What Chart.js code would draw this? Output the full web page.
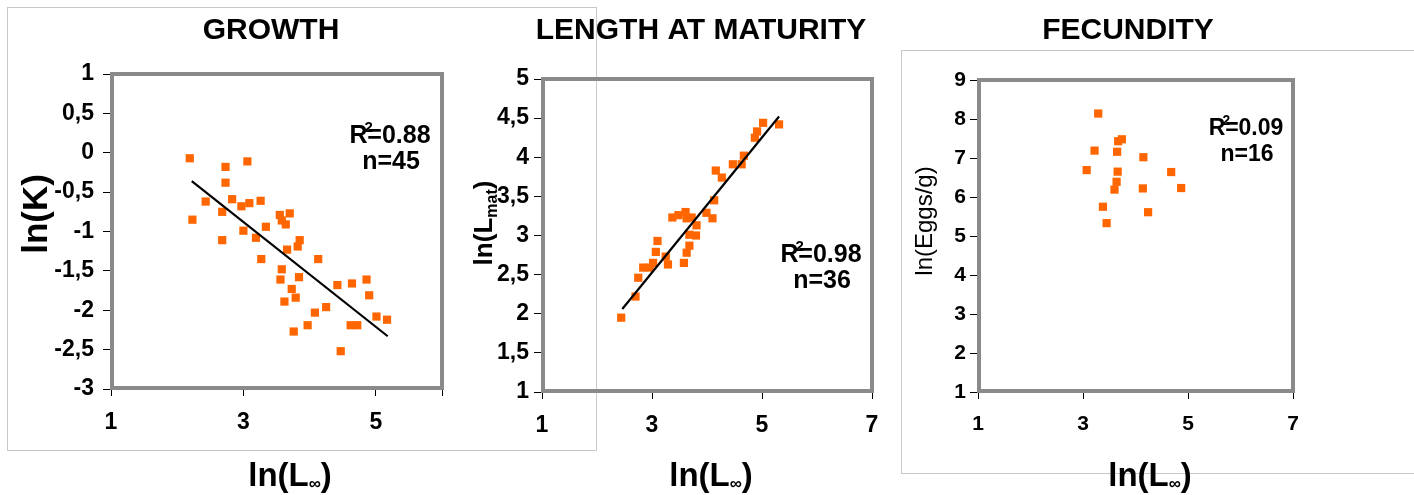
<!DOCTYPE html>
<html>
<head>
<meta charset="utf-8">
<script src="https://cdn.jsdelivr.net/npm/chart.js@4.4.0/dist/chart.umd.min.js"></script>
<style>
  body { margin: 0; background: #fff; }
  #wrap { position: relative; width: 1414px; height: 495px; overflow: hidden; }
  canvas { position: absolute; left: 0; top: 0; }
</style>
</head>
<body>
<div id="wrap">
  <canvas id="growth" width="1414" height="495"></canvas>
  <canvas id="maturity" width="1414" height="495"></canvas>
  <canvas id="fecundity" width="1414" height="495"></canvas>
</div>
<script>
// ---- data ----
const panelTitles = ['GROWTH', 'LENGTH AT MATURITY', 'FECUNDITY']
const r2Labels = ['0.88', '0.98', '0.09']
const nLabels = ['45', '36', '16']

// GROWTH: ln(Linf) vs ln(K)
const growthX = [2.19, 2.23, 2.43, 2.73, 2.73, 2.68, 2.68, 2.83, 3.06, 2.97, 3.09, 3.26, 3.00, 3.19, 3.34,
  3.27, 3.55, 3.58, 3.64, 3.70, 3.66, 3.82, 3.85, 3.58, 3.56, 3.84, 3.73, 3.79, 3.62, 3.76,
  3.97, 4.08, 4.13, 4.25, 4.42, 4.47, 4.64, 4.62, 4.72, 4.86, 4.90, 5.01, 5.17]
const growthY = [-0.07, -0.85, -0.62, -0.18, -0.38, -0.75, -1.11, -0.59, -0.11, -0.68, -0.64, -0.61, -0.99, -1.08, -0.94,
  -1.35, -0.79, -0.86, -0.91, -0.77, -1.23, -1.19, -1.11, -1.48, -1.61, -1.58, -1.73, -1.84, -1.89, -2.27,
  -2.19, -2.03, -1.35, -1.96, -1.68, -2.52, -1.66, -2.19, -2.19, -1.61, -1.81, -2.08, -2.12]
const growthTrendX = [2.22, 5.18]
const growthTrendY = [-0.36, -2.33]

// LENGTH AT MATURITY: ln(Linf) vs ln(Lmat)
const maturityX = [2.44, 2.70, 2.75, 2.84, 2.96, 3.02, 3.07, 3.10, 3.25, 3.29, 3.58, 3.37, 3.48, 3.61, 3.63,
  3.72, 3.81, 3.68, 3.80, 3.68, 3.63, 3.99, 4.10, 4.13, 4.16, 4.27, 4.47, 4.63, 4.67, 4.87,
  4.91, 5.02, 5.31]
const maturityY = [1.95, 2.22, 2.46, 2.59, 2.59, 2.65, 2.79, 2.93, 2.73, 2.63, 2.65, 3.23, 3.26, 3.30, 3.22,
  3.23, 3.13, 3.01, 3.00, 2.87, 2.78, 3.29, 3.22, 3.45, 3.83, 3.74, 3.91, 3.91, 4.02, 4.25,
  4.33, 4.44, 4.42]
const maturityTrendX = [2.46, 5.31]
const maturityTrendY = [2.06, 4.52]

// FECUNDITY: ln(Linf) vs ln(Eggs/g)
const fecundityX = [3.29, 3.22, 3.07, 3.38, 3.45, 3.67, 3.74, 3.65, 3.66, 3.64, 3.60, 4.15, 4.14, 4.24, 4.68, 4.87]
const fecundityY = [8.14, 7.19, 6.69, 5.75, 5.33, 7.43, 7.48, 7.16, 6.65, 6.39, 6.19, 7.02, 6.22, 5.61, 6.64, 6.23]

// axis ranges [min, max, step]
const growthXAxis = [1, 6, 2]
const growthYAxis = [-3, 1, 0.5]
const maturityXAxis = [1, 7, 2]
const maturityYAxis = [1, 5, 0.5]
const fecundityXAxis = [1, 7, 2]
const fecundityYAxis = [1, 9, 1]
const xTickLabels = [1, 3, 5, 7]

const ORANGE = '#ff6600'
const FONT = 'Liberation Sans, Arial, sans-serif'

function pts(xs, ys) {
    return xs.map((x, i) => ({ x: x, y: ys[i] }))
}

// draws a run of text pieces (for sub/superscripts), centred on cx, baseline at by
function drawRich(ctx, parts, cx, by, rotate) {
    ctx.save()
    ctx.translate(cx, by)
    if (rotate) ctx.rotate(-Math.PI / 2)
    ctx.textBaseline = 'alphabetic'
    ctx.textAlign = 'left'
    var total = 0
    parts.forEach(p => {
        ctx.font = (p.weight || 'bold') + ' ' + p.size + 'px ' + FONT
        p.w = ctx.measureText(p.t).width
        total += p.w + (p.dx || 0)
    })
    var x = -total / 2
    ctx.fillStyle = '#000'
    parts.forEach(p => {
        x += (p.dx || 0)
        ctx.font = (p.weight || 'bold') + ' ' + p.size + 'px ' + FONT
        ctx.fillText(p.t, x, p.dy || 0)
        x += p.w
    })
    ctx.restore()
}

function lInf(size) {
    return [
        { t: 'ln(L', size: size },
        { t: '\u221e', size: 17, dy: 3 },
        { t: ')', size: size }
    ]
}

function statLines(ctx, idx, cx, by, size) {
    drawRich(ctx, [
        { t: 'R', size: size },
        { t: '2', size: size * 0.6, dy: -size * 0.45, dx: -size * 0.12 },
        { t: '=' + r2Labels[idx], size: size, dx: -size * 0.22 }
    ], cx, by)
    drawRich(ctx, [{ t: 'n=' + nLabels[idx], size: size }], cx + 1, by + 26)
}

// text and frames for each panel, drawn after the chart
const decor = {
    growth: function (ctx) {
        ctx.strokeStyle = '#c8c8c8'
        ctx.lineWidth = 1
        ctx.strokeRect(7.5, 7.5, 589, 443)
        drawRich(ctx, [{ t: panelTitles[0], size: 30 }], 271, 39)
        drawRich(ctx, [{ t: 'ln(K)', size: 35 }], 47, 214, true)
        drawRich(ctx, lInf(33), 290, 486)
        statLines(ctx, 0, 390, 143, 25)
    },
    maturity: function (ctx) {
        drawRich(ctx, [{ t: panelTitles[1], size: 30 }], 701, 39)
        drawRich(ctx, [
            { t: 'ln(L', size: 26 },
            { t: 'mat', size: 16, dy: 5 },
            { t: ')', size: 26 }
        ], 492, 223, true)
        drawRich(ctx, lInf(33), 711, 486)
        statLines(ctx, 1, 821, 262, 25)
    },
    fecundity: function (ctx) {
        ctx.strokeStyle = '#c8c8c8'
        ctx.lineWidth = 1
        ctx.strokeRect(901.5, 50.5, 600, 423)
        drawRich(ctx, [{ t: panelTitles[2], size: 30 }], 1128, 39)
        drawRich(ctx, [{ t: 'ln(Eggs/g)', size: 24, weight: 'normal' }], 932, 221, true)
        drawRich(ctx, lInf(33), 1150, 486)
        statLines(ctx, 2, 1246, 135, 23)
    }
}

const framePlugin = {
    id: 'panelFrame',
    beforeDatasetsDraw(chart) {
        const a = chart.chartArea
        const ctx = chart.ctx
        ctx.save()
        ctx.strokeStyle = '#8a8a8a'
        ctx.lineWidth = 4
        ctx.strokeRect(a.left + 1, a.top, a.right - a.left - 1, a.bottom - a.top - 1)
        ctx.restore()
    },
    afterDraw(chart) {
        const ctx = chart.ctx
        ctx.save()
        decor[chart.canvas.id](ctx)
        ctx.restore()
    }
}

function makePanel(id, xs, ys, tx, ty, xAxis, yAxis, area, tickSize, yPad) {
    const yW = 80, xH = 50
    const datasets = [{
        data: pts(xs, ys),
        pointStyle: 'rect',
        pointRadius: 5.8,
        pointHoverRadius: 5.8,
        backgroundColor: ORANGE,
        borderWidth: 0,
        order: 2
    }]
    if (tx) {
        datasets.push({
            data: pts(tx, ty),
            showLine: true,
            pointRadius: 0,
            borderColor: '#000',
            borderWidth: 2.2,
            order: 1
        })
    }
    const tickFont = { family: FONT, size: tickSize, weight: 'bold' }
    return new Chart(document.getElementById(id), {
        type: 'scatter',
        data: { datasets: datasets },
        plugins: [framePlugin],
        options: {
            responsive: false,
            animation: false,
            layout: {
                padding: {
                    left: area[0] - yW,
                    top: area[1],
                    right: 1414 - area[2],
                    bottom: 495 - area[3] - xH
                }
            },
            plugins: { legend: { display: false }, tooltip: { enabled: false } },
            scales: {
                x: {
                    type: 'linear',
                    min: xAxis[0], max: xAxis[1],
                    afterFit: s => { s.height = xH },
                    afterBuildTicks: s => {
                        const t = []
                        for (var v = xAxis[0]; v <= xAxis[1] + 1e-9; v += xAxis[2]) t.push({ value: v })
                        if (t[t.length - 1].value < xAxis[1]) t.push({ value: xAxis[1] })
                        s.ticks = t
                    },
                    ticks: {
                        font: tickFont,
                        color: '#000',
                        padding: 13,
                        maxRotation: 0,
                        autoSkip: false,
                        callback: v => xTickLabels.indexOf(v) >= 0 ? String(v) : ''
                    },
                    grid: { drawOnChartArea: false, tickLength: 7, color: '#000' },
                    border: { color: '#000', width: 1 }
                },
                y: {
                    type: 'linear',
                    min: yAxis[0], max: yAxis[1],
                    afterFit: s => { s.width = yW },
                    ticks: {
                        stepSize: yAxis[2],
                        font: tickFont,
                        color: '#000',
                        padding: yPad,
                        autoSkip: false,
                        callback: v => String(v).replace('.', ',')
                    },
                    grid: { drawOnChartArea: false, tickLength: 8, color: '#000' },
                    border: { color: '#000', width: 1 }
                }
            }
        }
    })
}

makePanel('growth', growthX, growthY, growthTrendX, growthTrendY,
    growthXAxis, growthYAxis, [111, 74, 442, 389], 23, 9)
makePanel('maturity', maturityX, maturityY, maturityTrendX, maturityTrendY,
    maturityXAxis, maturityYAxis, [542, 79, 872, 392], 23, 5)
makePanel('fecundity', fecundityX, fecundityY, null, null,
    fecundityXAxis, fecundityYAxis, [978, 80, 1293, 392], 21, 4)
</script>
</body>
</html>
